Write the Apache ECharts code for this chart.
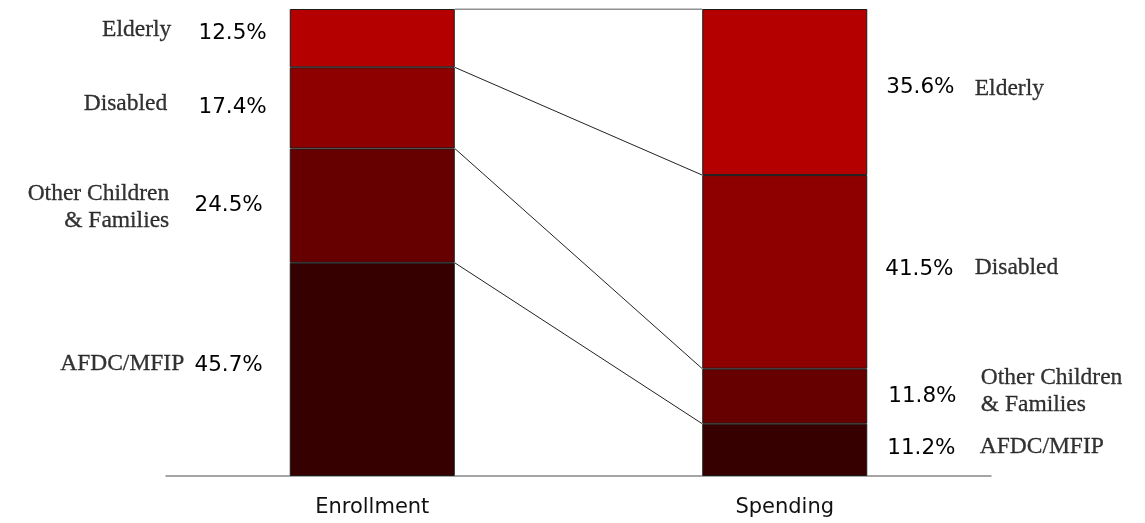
<!DOCTYPE html>
<html>
<head>
<meta charset="utf-8">
<script src="https://cdn.jsdelivr.net/npm/echarts@6/dist/echarts.min.js"></script>
<style>
  html, body { margin: 0; padding: 0; background: #fff; }
  #chart { width: 1145px; height: 523px; }
</style>
</head>
<body>
<div id="chart"></div>
<script>
// Medical assistance: share of enrollment vs. share of spending, by eligibility group
const categories = ['Enrollment', 'Spending'];
// groups listed bottom-to-top in the stack
const groups = ['AFDC/MFIP', 'Other Children\n& Families', 'Disabled', 'Elderly'];
const enrollment = [45.7, 24.5, 17.4, 12.5];
const spending = [11.2, 11.8, 41.5, 35.6];

// presentation settings (per group, same order as above)
const colors = ['#360000', '#660000', '#8e0000', '#b50000'];
const pctLeft  = { distance: [27, 27, 23, 23], dy: [-4, 0, 0, -5] };
const pctRight = { distance: [20, 21, 18, 19], dy: [-1.5, 0, -2, -4.5] };
const nameLeft  = { distance: [188, 203, 205, 201], dy: [-6, 2, -4.5, -8] };
const nameRight = { distance: [195, 196, 190, 190], dy: [-3, -5, -4, -3] };

const SANS = 'DejaVu Sans';
const SERIF = 'Liberation Serif';

function cumulative(arr) {
  const out = [0];
  arr.forEach(v => out.push(+(out[out.length - 1] + v).toFixed(3)));
  return out;
}
const cumE = cumulative(enrollment);
const cumS = cumulative(spending);
const yMax = Math.max(cumE[cumE.length - 1], cumS[cumS.length - 1]);

const series = [];

// stacked segments
groups.forEach((g, i) => {
  series.push({
    name: g,
    type: 'bar',
    stack: 'share',
    barWidth: '40%',
    xAxisIndex: 0,
    yAxisIndex: 0,
    itemStyle: { color: colors[i], borderColor: '#1a1a1a', borderWidth: 1 },
    data: [
      {
        value: enrollment[i],
        label: {
          show: true, position: 'left', distance: pctLeft.distance[i],
          offset: [0, pctLeft.dy[i]]
        }
      },
      {
        value: spending[i],
        label: {
          show: true, position: 'right', distance: pctRight.distance[i],
          offset: [0, pctRight.dy[i]]
        }
      }
    ],
    label: {
      fontFamily: SANS, fontSize: 21.5, color: '#000',
      formatter: p => p.value.toFixed(1) + '%'
    }
  });
});

// group names beside each segment
const nameData = [];
groups.forEach((g, i) => {
  nameData.push({
    value: [0, (cumE[i] + cumE[i + 1]) / 2],
    name: g,
    label: {
      position: 'left', distance: nameLeft.distance[i], align: 'right',
      offset: [0, nameLeft.dy[i]]
    }
  });
  nameData.push({
    value: [1, (cumS[i] + cumS[i + 1]) / 2],
    name: g,
    label: {
      position: 'right', distance: nameRight.distance[i], align: 'left',
      offset: [0, nameRight.dy[i]]
    }
  });
});
series.push({
  type: 'scatter',
  xAxisIndex: 0,
  yAxisIndex: 0,
  symbolSize: 0,
  silent: true,
  data: nameData,
  label: {
    show: true,
    fontFamily: SERIF, fontSize: 23.5, color: '#000', lineHeight: 27,
    textBorderColor: '#000', textBorderWidth: 0.3,
    formatter: p => p.name
  },
  z: 5
});

// connectors between matching boundaries of the two bars
for (let k = 1; k < cumE.length; k++) {
  series.push({
    type: 'line',
    xAxisIndex: 1,
    yAxisIndex: 0,
    symbol: 'none',
    silent: true,
    lineStyle: { color: '#222', width: 1 },
    data: [[0.7, cumE[k]], [1.3, cumS[k]]],
    z: 1
  });
}

const chart = echarts.init(document.getElementById('chart'), null, { renderer: 'canvas' });
chart.setOption({
  animation: false,
  backgroundColor: '#fff',
  grid: { left: 166, right: 154, top: 9, bottom: 47 },
  xAxis: [
    {
      type: 'category',
      data: categories,
      axisLine: { show: true, lineStyle: { color: '#888', width: 1.5 } },
      axisTick: { show: false },
      axisLabel: { fontFamily: SANS, fontSize: 21, color: '#111', margin: 21 }
    },
    {
      type: 'value', min: 0, max: 2, show: false
    }
  ],
  yAxis: {
    type: 'value', min: 0, max: yMax, show: false,
    splitLine: { show: false }
  },
  series: series
});
</script>
</body>
</html>
